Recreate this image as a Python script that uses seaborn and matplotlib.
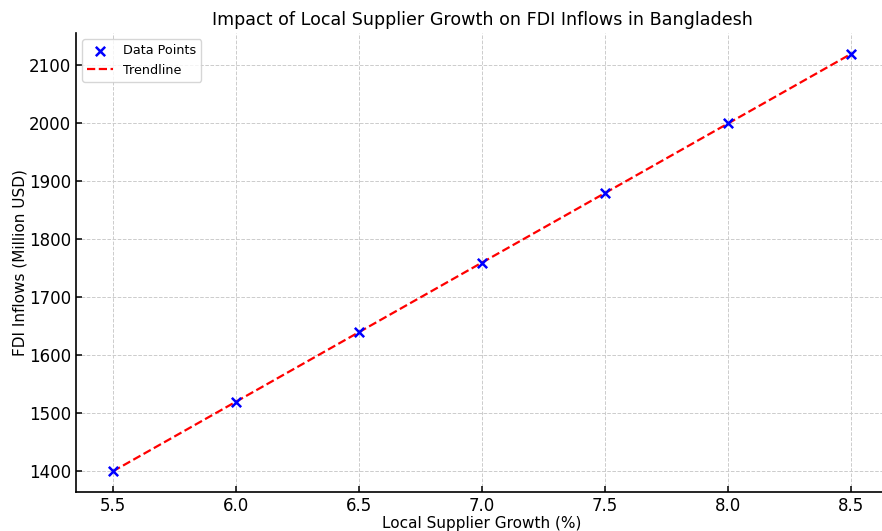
import numpy as np
import pandas as pd
import seaborn as sns
import matplotlib
matplotlib.use("Agg")
import matplotlib.pyplot as plt

# values
supplier_growth = [5.5, 6.0, 6.5, 7.0, 7.5, 8.0, 8.5]
fdi_inflows = [1400, 1520, 1640, 1760, 1880, 2000, 2120]

df = pd.DataFrame({"growth": supplier_growth, "fdi": fdi_inflows})

sns.set_style("ticks", {"axes.edgecolor": "black", "text.color": "black",
                        "axes.labelcolor": "black", "xtick.color": "black",
                        "ytick.color": "black"})
plt.rcParams['font.family'] = ['DejaVu Sans']

fig = plt.figure(figsize=(8.82, 5.31), dpi=100)
ax = fig.add_axes([0.086, 0.073, 0.921, 0.865])

sns.scatterplot(data=df, x="growth", y="fdi", marker="x", color="blue",
                s=45, linewidth=1.8, label="Data Points", ax=ax, zorder=3)

# linear trendline
coef = np.polyfit(df.growth, df.fdi, 1)
trend = np.polyval(coef, df.growth)
sns.lineplot(x=df.growth, y=trend, color="red", linestyle="--", linewidth=1.6,
             label="Trendline", ax=ax, zorder=2)

ax.set_title("Impact of Local Supplier Growth on FDI Inflows in Bangladesh",
             fontsize=12.6, pad=6)
ax.set_xlabel("Local Supplier Growth (%)", fontsize=11, labelpad=1)
ax.set_ylabel("FDI Inflows (Million USD)", fontsize=11, labelpad=1)
ax.tick_params(direction="in", labelsize=12, length=4, width=1.1)
ax.grid(True, linestyle="--", color="#cccccc", linewidth=0.7)
ax.set_axisbelow(True)
sns.despine(ax=ax)
for side in ["left", "bottom"]:
    ax.spines[side].set_linewidth(1.2)
ax.legend(loc="upper left", fontsize=9.2, frameon=True, borderaxespad=0.5,
          handlelength=2.0)

fig.savefig("out.png", dpi=100)
